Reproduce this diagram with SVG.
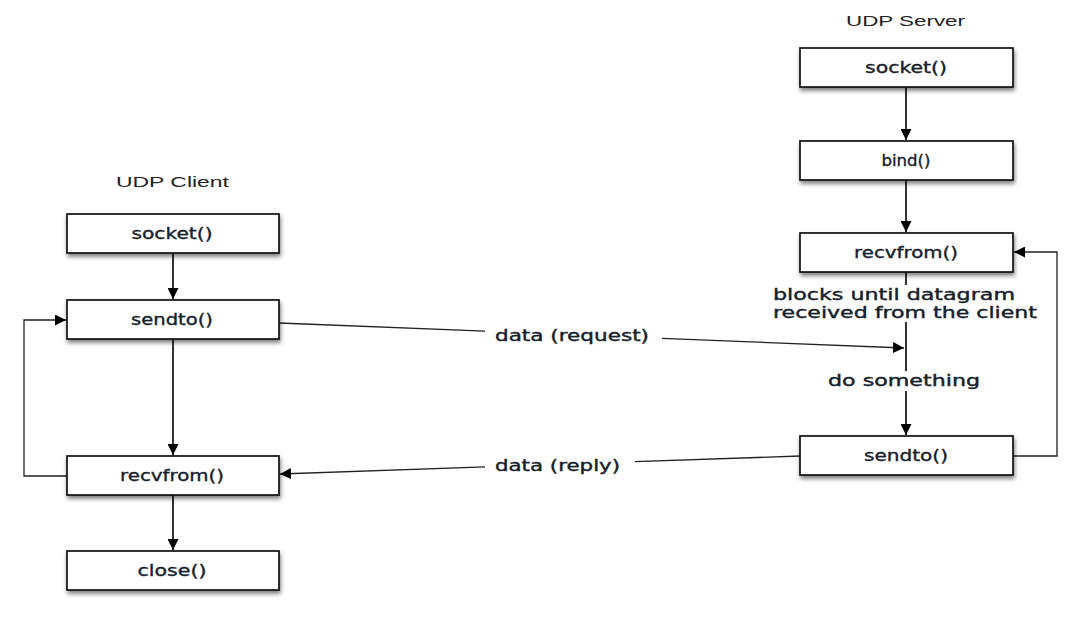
<svg xmlns="http://www.w3.org/2000/svg" width="1079" height="619" viewBox="0 0 1079 619">
<style>
.box{fill:#fff;stroke:#111;stroke-width:1.7;filter:url(#sh)}
.lbl{font-family:"DejaVu Sans","Liberation Sans",sans-serif;font-size:16px;fill:#15202b;stroke:#15202b;stroke-width:0.35;text-anchor:middle}
.ttl{font-family:"Liberation Sans",Arial,sans-serif;font-size:15px;fill:#222;text-anchor:middle}
.el{font-family:"DejaVu Sans",sans-serif;font-size:16px;fill:#15202b;stroke:#15202b;stroke-width:0.4}
.ln{fill:none;stroke:#333;stroke-width:2}
.thin{fill:none;stroke:#222;stroke-width:1.3}
</style>
<defs>
<filter id="sh" x="-10%" y="-20%" width="130%" height="160%">
<feDropShadow dx="1" dy="3" stdDeviation="2.2" flood-color="#000" flood-opacity="0.5"/>
</filter>
<marker id="ah" viewBox="0 0 10 10" refX="10" refY="5" markerWidth="11" markerHeight="11" markerUnits="userSpaceOnUse" orient="auto">
<path d="M0,0 L10,5 L0,10 z" fill="#000"/>
</marker>
</defs>

<text class="ttl" x="172.5" y="187" textLength="113" lengthAdjust="spacingAndGlyphs">UDP Client</text>
<text class="ttl" x="905.5" y="26" textLength="119" lengthAdjust="spacingAndGlyphs">UDP Server</text>

<g id="connectors">
<path class="ln" d="M173,253 V299" marker-end="url(#ah)"/>
<path class="ln" d="M173,339 V455" marker-end="url(#ah)"/>
<path class="ln" d="M173,495 V550" marker-end="url(#ah)"/>
<path class="thin" d="M67,476 H24 V320 H66" marker-end="url(#ah)"/>
<path class="ln" d="M906,87 V140" marker-end="url(#ah)"/>
<path class="ln" d="M906,180 V232" marker-end="url(#ah)"/>
<path class="ln" d="M906,272 V285"/>
<path class="ln" d="M906,322 V371"/>
<path class="ln" d="M906,391 V435" marker-end="url(#ah)"/>
<path class="thin" d="M1013,456 H1057 V252 H1014" marker-end="url(#ah)"/>
<path class="thin" d="M279,323 L485,331.2"/>
<path class="thin" d="M662,338.3 L904,348" marker-end="url(#ah)"/>
<path class="thin" d="M800,456 L635,461.7"/>
<path class="thin" d="M485,466.9 L280,474" marker-end="url(#ah)"/>
<text class="el" x="495" y="341" textLength="154" lengthAdjust="spacingAndGlyphs">data (request)</text>
<text class="el" x="495" y="471" textLength="125" lengthAdjust="spacingAndGlyphs">data (reply)</text>
<text class="el" x="773" y="300" textLength="242" lengthAdjust="spacingAndGlyphs">blocks until datagram</text>
<text class="el" x="773" y="318" textLength="264" lengthAdjust="spacingAndGlyphs">received from the client</text>
<text class="el" x="828" y="386" textLength="152" lengthAdjust="spacingAndGlyphs">do something</text>
</g>

<g id="c_socket"><rect class="box" x="67" y="214" width="212" height="39"/><text class="lbl" x="172" y="239" textLength="81" lengthAdjust="spacingAndGlyphs">socket()</text></g>
<g id="c_sendto"><rect class="box" x="67" y="300" width="212" height="39"/><text class="lbl" x="172" y="325" textLength="82" lengthAdjust="spacingAndGlyphs">sendto()</text></g>
<g id="c_recvfrom"><rect class="box" x="67" y="456" width="212" height="39"/><text class="lbl" x="172" y="481" textLength="104" lengthAdjust="spacingAndGlyphs">recvfrom()</text></g>
<g id="c_close"><rect class="box" x="67" y="551" width="212" height="39"/><text class="lbl" x="172" y="576" textLength="69" lengthAdjust="spacingAndGlyphs">close()</text></g>

<g id="s_socket"><rect class="box" x="800" y="48" width="213" height="39"/><text class="lbl" x="906" y="73" textLength="82" lengthAdjust="spacingAndGlyphs">socket()</text></g>
<g id="s_bind"><rect class="box" x="800" y="141" width="213" height="39"/><text class="lbl" x="906" y="166" textLength="49" lengthAdjust="spacingAndGlyphs">bind()</text></g>
<g id="s_recvfrom"><rect class="box" x="800" y="233" width="213" height="39"/><text class="lbl" x="906" y="258" textLength="104" lengthAdjust="spacingAndGlyphs">recvfrom()</text></g>
<g id="s_sendto"><rect class="box" x="800" y="436" width="213" height="39"/><text class="lbl" x="906" y="461" textLength="84" lengthAdjust="spacingAndGlyphs">sendto()</text></g>
</svg>
